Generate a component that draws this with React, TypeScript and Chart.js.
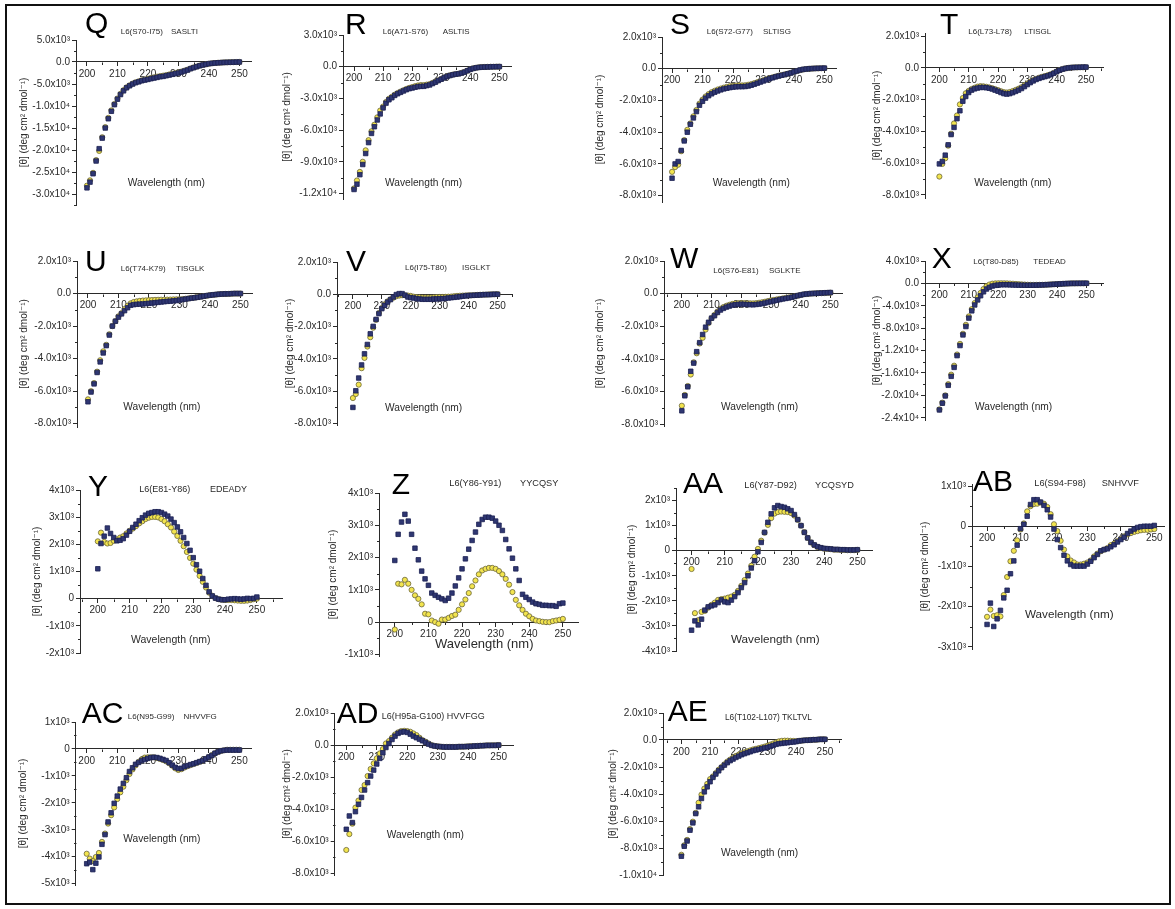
import React, { useEffect, useRef } from 'react';
import { Chart, registerables } from 'chart.js';

Chart.register(...registerables);

const FONT = "'Liberation Sans', Arial, Helvetica, 'DejaVu Sans', sans-serif";
Chart.defaults.font.family = FONT;

// ---------------- DATA ----------------
const WAVELENGTHS = [200, 201, 202, 203, 204, 205, 206, 207, 208, 209, 210, 211, 212, 213, 214, 215, 216, 217, 218, 219, 220, 221, 222, 223, 224, 225, 226, 227, 228, 229, 230, 231, 232, 233, 234, 235, 236, 237, 238, 239, 240, 241, 242, 243, 244, 245, 246, 247, 248, 249, 250];
const X_TICKS = [200, 210, 220, 230, 240, 250];

const Q_BLUE = [-28600, -27300, -25400, -22500, -19700, -17300, -15000, -12900, -11200, -9700, -8450, -7400, -6550, -5860, -5400, -5000, -4700, -4500, -4260, -4100, -3960, -3800, -3650, -3500, -3350, -3270, -3120, -2970, -2800, -2660, -2500, -2280, -2050, -1830, -1520, -1290, -1070, -840, -680, -530, -380, -300, -230, -180, -140, -100, -80, -60, -40, -20, 0];
const Q_YELLOW = [-28100, -26900, -25200, -22300, -20200, -17100, -14800, -12700, -11000, -9550, -8300, -7250, -6400, -5750, -5300, -4900, -4600, -4380, -4150, -3980, -3800, -3620, -3480, -3330, -3200, -3100, -2970, -2830, -2680, -2540, -2380, -2180, -1960, -1740, -1470, -1240, -1030, -820, -660, -520, -370, -290, -220, -170, -130, -90, -70, -50, -30, -10, 10];
const Q_YTICKS = [5000, 0, -5000, -10000, -15000, -20000, -25000, -30000];

const R_BLUE = [-11600, -11100, -10200, -9240, -8200, -7170, -6300, -5670, -5030, -4460, -3890, -3440, -3120, -2930, -2710, -2550, -2420, -2290, -2170, -2070, -2010, -1940, -1880, -1850, -1850, -1780, -1720, -1590, -1460, -1310, -1180, -1050, -920, -830, -760, -700, -670, -600, -510, -380, -250, -160, -100, -60, -40, -30, -20, -10, 0, 0, 10];
const R_YELLOW = [-11500, -10750, -9940, -8980, -7900, -6940, -6100, -5480, -4780, -4140, -3760, -3330, -3030, -2840, -2640, -2480, -2350, -2220, -2100, -2000, -1920, -1840, -1770, -1730, -1740, -1690, -1640, -1530, -1410, -1280, -1150, -1030, -900, -810, -740, -690, -650, -580, -490, -370, -240, -150, -90, -50, -30, -20, -10, 0, 0, 10, 10];
const R_YTICKS = [3000, 0, -3000, -6000, -9000, -12000];

const S_BLUE = [-6900, -6000, -5850, -5150, -4550, -4000, -3500, -3100, -2700, -2300, -2050, -1850, -1700, -1580, -1480, -1400, -1330, -1270, -1230, -1190, -1160, -1140, -1130, -1130, -1120, -1090, -1040, -980, -910, -840, -770, -700, -630, -570, -510, -460, -410, -370, -320, -270, -200, -140, -80, -40, -20, 0, 10, 20, 30, 30, 40];
const S_YELLOW = [-6500, -6200, -6050, -5200, -4500, -3850, -3450, -3000, -2600, -2200, -1950, -1750, -1600, -1480, -1390, -1310, -1250, -1190, -1140, -1100, -1080, -1060, -1050, -1050, -1040, -1010, -970, -910, -850, -790, -720, -660, -600, -540, -490, -440, -400, -360, -310, -260, -200, -140, -90, -50, -20, 0, 10, 20, 20, 30, 30];
const S_YTICKS = [2000, 0, -2000, -4000, -6000, -8000];

const T_BLUE = [-6050, -5900, -5500, -4850, -4200, -3750, -3200, -2700, -2100, -1800, -1550, -1400, -1320, -1270, -1230, -1230, -1250, -1280, -1330, -1400, -1470, -1550, -1620, -1650, -1620, -1560, -1480, -1400, -1300, -1180, -1050, -930, -820, -730, -660, -600, -550, -500, -430, -340, -240, -150, -80, -30, 0, 20, 30, 40, 40, 50, 50];
const T_YELLOW = [-6850, -6050, -5700, -4900, -4150, -3500, -3000, -2300, -1900, -1600, -1450, -1330, -1250, -1180, -1150, -1160, -1190, -1230, -1280, -1340, -1400, -1470, -1530, -1550, -1520, -1460, -1390, -1310, -1220, -1100, -980, -870, -770, -690, -620, -560, -510, -460, -400, -320, -230, -140, -70, -30, 0, 20, 30, 30, 40, 40, 40];
const T_YTICKS = [2000, 0, -2000, -4000, -6000, -8000];

const U_BLUE = [-6650, -6050, -5550, -4850, -4200, -3650, -3200, -2550, -2000, -1700, -1450, -1250, -1050, -870, -720, -680, -660, -650, -640, -620, -600, -580, -560, -540, -520, -500, -480, -470, -450, -430, -400, -370, -340, -310, -280, -260, -230, -200, -160, -130, -100, -80, -60, -40, -30, -20, -20, -10, 0, 0, 0];
const U_YELLOW = [-6500, -6000, -5500, -4800, -4100, -3550, -3150, -2500, -2000, -1700, -1400, -1200, -950, -750, -600, -520, -480, -450, -430, -420, -410, -400, -390, -385, -380, -380, -375, -370, -360, -355, -350, -340, -320, -300, -270, -250, -220, -190, -160, -130, -100, -80, -60, -40, -30, -20, -20, -10, 0, 0, 0];
const U_YTICKS = [2000, 0, -2000, -4000, -6000, -8000];

const V_BLUE = [-7010, -5980, -5190, -4380, -3690, -3110, -2450, -1990, -1560, -1200, -890, -680, -480, -330, -170, -20, 40, 40, -60, -170, -210, -230, -270, -290, -310, -310, -310, -310, -290, -290, -270, -270, -250, -230, -210, -190, -170, -150, -120, -100, -80, -70, -60, -50, -40, -30, -20, -20, -10, 0, 0];
const V_YELLOW = [-6430, -6180, -5600, -4580, -3940, -3240, -2660, -2070, -1580, -1160, -850, -620, -440, -310, -210, -120, -80, -60, -60, -80, -100, -150, -180, -190, -200, -200, -200, -200, -190, -180, -170, -170, -160, -150, -140, -120, -100, -90, -80, -70, -60, -60, -50, -40, -30, -20, -20, -10, 0, 0, 10];
const V_YTICKS = [2000, 0, -2000, -4000, -6000, -8000];

const W_BLUE = [-7170, -6250, -5700, -4750, -4250, -3550, -3000, -2500, -2050, -1750, -1500, -1350, -1150, -1000, -900, -820, -760, -700, -680, -650, -640, -650, -660, -670, -680, -660, -640, -610, -570, -520, -480, -440, -400, -360, -320, -290, -260, -220, -170, -120, -80, -40, -20, 0, 10, 20, 30, 40, 50, 60, 70];
const W_YELLOW = [-6860, -6200, -5650, -4950, -4200, -3650, -3050, -2700, -2200, -1800, -1500, -1300, -1100, -930, -820, -740, -680, -630, -600, -580, -570, -575, -585, -590, -595, -580, -555, -525, -490, -450, -410, -380, -350, -320, -290, -260, -230, -200, -160, -120, -80, -40, -20, 0, 10, 20, 30, 30, 40, 50, 60];
const W_YTICKS = [2000, 0, -2000, -4000, -6000, -8000];

const X_BLUE = [-22600, -21400, -20100, -18200, -16600, -15000, -12900, -11100, -9200, -7700, -6200, -4900, -3850, -2950, -2200, -1500, -1000, -700, -470, -350, -300, -240, -240, -240, -260, -280, -300, -310, -320, -330, -330, -330, -320, -310, -290, -270, -250, -220, -190, -160, -130, -100, -70, -40, -20, 0, 0, 10, 10, 20, 20];
const X_YELLOW = [-22500, -21300, -20000, -18000, -16300, -14700, -12700, -10800, -9000, -7400, -5900, -4600, -3500, -2500, -1700, -1000, -500, -200, -50, 0, 20, 30, 20, 0, -30, -60, -100, -140, -180, -210, -240, -260, -270, -270, -260, -250, -230, -210, -180, -150, -120, -90, -60, -40, -20, 0, 0, 10, 10, 10, 20];
const X_YTICKS = [4000, 0, -4000, -8000, -12000, -16000, -20000, -24000];

const Y_BLUE = [1100, 2030, 2300, 2600, 2400, 2250, 2130, 2150, 2210, 2340, 2480, 2620, 2740, 2870, 2980, 3075, 3140, 3170, 3200, 3200, 3170, 3110, 3040, 2930, 2800, 2640, 2460, 2250, 2030, 1780, 1510, 1250, 1010, 740, 490, 250, 100, 20, -20, -40, -40, -20, -10, 0, -10, -20, -10, 10, 0, 10, 60];
const Y_YELLOW = [2110, 2430, 2090, 2030, 2050, 2130, 2180, 2250, 2300, 2400, 2500, 2580, 2670, 2770, 2850, 2930, 2980, 3010, 3010, 2990, 2930, 2850, 2740, 2620, 2470, 2310, 2130, 1930, 1720, 1500, 1290, 1070, 840, 620, 410, 220, 100, 20, -20, -40, -50, -50, -50, -60, -70, -80, -80, -70, -50, -20, 0];
const Y_YTICKS = [4000, 3000, 2000, 1000, 0, -1000, -2000];

const Z_BLUE = [1910, 2720, 3100, 3340, 3130, 2720, 2290, 1930, 1580, 1340, 1140, 900, 830, 770, 720, 670, 740, 900, 1120, 1370, 1650, 1960, 2260, 2530, 2790, 3030, 3180, 3250, 3250, 3220, 3130, 3000, 2840, 2560, 2270, 1980, 1650, 1290, 860, 770, 700, 620, 570, 550, 520, 520, 510, 510, 490, 570, 590];
const Z_YELLOW = [-230, 1190, 1170, 1310, 1190, 1000, 830, 720, 550, 260, 240, 50, 0, -50, 80, 80, 130, 190, 230, 380, 550, 700, 900, 1110, 1290, 1480, 1600, 1650, 1680, 1680, 1650, 1580, 1480, 1340, 1160, 930, 690, 520, 380, 260, 180, 100, 50, 30, 10, 0, 0, 30, 50, 70, 100];
const Z_YTICKS = [4000, 3000, 2000, 1000, 0, -1000];

const AA_BLUE = [-3170, -2800, -2960, -2730, -2370, -2240, -2200, -2160, -2070, -1960, -2040, -2070, -1970, -1830, -1670, -1470, -1270, -1000, -690, -400, -40, 330, 730, 1130, 1470, 1710, 1800, 1760, 1730, 1670, 1600, 1440, 1240, 1000, 730, 510, 330, 230, 160, 120, 90, 80, 70, 50, 50, 40, 40, 30, 30, 30, 40];
const AA_YELLOW = [-730, -2490, -2770, -2440, -2400, -2270, -2160, -2070, -1960, -1930, -1910, -1870, -1830, -1760, -1600, -1400, -1170, -910, -600, -240, 70, 400, 720, 1030, 1300, 1480, 1540, 1560, 1550, 1540, 1500, 1400, 1230, 1000, 740, 510, 330, 220, 150, 110, 80, 70, 60, 40, 40, 30, 30, 20, 20, 20, 30];
const AA_YTICKS = [2000, 1000, 0, -1000, -2000, -3000, -4000];

const AB_BLUE = [-2440, -1910, -2490, -2300, -2090, -1780, -1590, -1180, -860, -470, -60, 50, 250, 540, 660, 660, 600, 520, 410, 230, -70, -330, -530, -720, -860, -950, -990, -990, -990, -990, -940, -870, -780, -700, -610, -580, -560, -510, -460, -390, -330, -270, -180, -120, -70, -30, -10, 0, 0, 0, 20];
const AB_YELLOW = [-2250, -2070, -2230, -2210, -2240, -1710, -1260, -870, -610, -350, -80, 70, 370, 500, 550, 560, 590, 560, 480, 300, 50, -120, -360, -580, -750, -850, -900, -950, -950, -930, -900, -850, -750, -680, -620, -580, -540, -470, -430, -370, -310, -250, -200, -170, -140, -120, -100, -90, -90, -80, -70];
const AB_YTICKS = [1000, 0, -1000, -2000, -3000];

const AC_BLUE = [-4260, -4200, -4480, -4240, -4010, -3540, -3180, -2710, -2370, -2020, -1750, -1490, -1280, -1070, -840, -700, -570, -500, -430, -390, -350, -320, -310, -320, -350, -390, -430, -510, -600, -680, -730, -720, -660, -620, -580, -550, -510, -470, -430, -370, -300, -240, -160, -110, -70, -50, -40, -40, -40, -40, -40];
const AC_YELLOW = [-3890, -4070, -4160, -4010, -3860, -3450, -3140, -2770, -2460, -2170, -1860, -1610, -1400, -1160, -930, -760, -610, -480, -390, -320, -310, -310, -310, -340, -370, -410, -460, -530, -620, -720, -780, -750, -690, -640, -600, -560, -520, -480, -430, -370, -300, -230, -160, -110, -70, -50, -30, -30, -30, -30, -30];
const AC_YTICKS = [1000, 0, -1000, -2000, -3000, -4000, -5000];

const AD_BLUE = [-5250, -4420, -4830, -4150, -3690, -3260, -2800, -2340, -1930, -1560, -1180, -830, -480, -150, 100, 350, 560, 730, 810, 830, 790, 680, 560, 460, 370, 270, 170, 60, -20, -60, -80, -100, -120, -120, -120, -120, -120, -100, -100, -100, -80, -80, -60, -60, -40, -40, -20, -20, -20, -20, 0];
const AD_YELLOW = [-6540, -5550, -4900, -3900, -3460, -2800, -2490, -1930, -1490, -1140, -830, -520, -250, 100, 250, 460, 660, 790, 870, 890, 870, 830, 730, 620, 460, 310, 210, 100, 0, -50, -80, -100, -110, -110, -110, -110, -110, -100, -100, -90, -80, -70, -60, -50, -40, -30, -20, -20, -10, -10, 0];
const AD_YTICKS = [2000, 0, -2000, -4000, -6000, -8000];

const AE_BLUE = [-8610, -7870, -7480, -6680, -6140, -5450, -4950, -4330, -3840, -3470, -3090, -2770, -2520, -2280, -2050, -1860, -1680, -1530, -1410, -1290, -1190, -1090, -1010, -940, -870, -790, -740, -690, -640, -590, -540, -470, -400, -320, -270, -250, -220, -200, -170, -150, -120, -70, -50, -20, -20, 0, 20, 20, 50, 50, 50];
const AE_YELLOW = [-8500, -7800, -7400, -6600, -6050, -5400, -4650, -4050, -3600, -3250, -2900, -2700, -2450, -2200, -2000, -1800, -1600, -1450, -1300, -1180, -1080, -990, -910, -840, -770, -700, -650, -600, -550, -490, -420, -340, -260, -180, -100, -60, -50, -50, -60, -70, -80, -60, -40, -20, -10, 0, 20, 20, 40, 50, 50];
const AE_YTICKS = [2000, 0, -2000, -4000, -6000, -8000, -10000];

// ---------------- LAYOUT / STYLE ----------------
const Y_TITLE = '[\u03B8] (deg cm\u00B2 dmol\u207B\u00B9)';
const AXIS = '#2a2a2a';
const TEXT = '#2a2a2a';
const BLUE_FILL = '#2f3772';
const BLUE_EDGE = '#1b2050';
const YEL_FILL = '#f2e44e';
const YEL_EDGE = '#6b6638';

type P = {
  id: string; l1: string; l2?: string; blue: number[]; yellow: number[]; yTicks: number[]; dec: number;
  yMin: number; yMax: number; xMin: number; xMax: number;
  axL: number; axR: number; zero: number; ppk: number; titleOff: number;
  lx: number; lTop: number; l1x: number; l2x?: number; ly: number; wlx: number; wly: number; wlSize?: number; lblSize?: number;
};

const PANELS: P[] = [
  { id: 'Q', l1: 'L6(S70-I75)', l2: 'SASLTI', blue: Q_BLUE, yellow: Q_YELLOW, yTicks: Q_YTICKS, dec: 1, yMin: -32500, yMax: 5000, xMin: 196.4, xMax: 253.8, axL: 76.3, axR: 251.7, zero: 62, ppk: 4.4, titleOff: 52, lx: 85, lTop: 11.7, l1x: 120.7, l2x: 171, ly: 32, wlx: 127.7, wly: 182.7 },
  { id: 'R', l1: 'L6(A71-S76)', l2: 'ASLTIS', blue: R_BLUE, yellow: R_YELLOW, yTicks: R_YTICKS, dec: 1, yMin: -12500, yMax: 3000, xMin: 196.2, xMax: 254.0, axL: 343.3, axR: 511.7, zero: 66.7, ppk: 10.55, titleOff: 56, lx: 345, lTop: 13.3, l1x: 382.7, l2x: 442.7, ly: 32, wlx: 385, wly: 182.7 },
  { id: 'S', l1: 'L6(S72-G77)', l2: 'SLTISG', blue: S_BLUE, yellow: S_YELLOW, yTicks: S_YTICKS, dec: 1, yMin: -8400, yMax: 2000, xMin: 196.7, xMax: 253.8, axL: 662.3, axR: 836.7, zero: 68.3, ppk: 15.9, titleOff: 62, lx: 670, lTop: 13.3, l1x: 706.7, l2x: 763, ly: 32, wlx: 712.7, wly: 182.7 },
  { id: 'T', l1: 'L6(L73-L78)', l2: 'LTISGL', blue: T_BLUE, yellow: T_YELLOW, yTicks: T_YTICKS, dec: 1, yMin: -8200, yMax: 2200, xMin: 195.1, xMax: 255.8, axL: 925, axR: 1103, zero: 67.7, ppk: 15.9, titleOff: 48, lx: 940, lTop: 13.3, l1x: 968.3, l2x: 1024.3, ly: 32, wlx: 974.3, wly: 182.7 },
  { id: 'U', l1: 'L6(T74-K79)', l2: 'TISGLK', blue: U_BLUE, yellow: U_YELLOW, yTicks: U_YTICKS, dec: 1, yMin: -8200, yMax: 2000, xMin: 196.4, xMax: 253.8, axL: 76.7, axR: 251.7, zero: 293.7, ppk: 16.3, titleOff: 53, lx: 85, lTop: 250, l1x: 120.7, l2x: 176, ly: 269, wlx: 123.3, wly: 407.3 },
  { id: 'V', l1: 'L6(I75-T80)', l2: 'ISGLKT', blue: V_BLUE, yellow: V_YELLOW, yTicks: V_YTICKS, dec: 1, yMin: -8100, yMax: 2000, xMin: 194.5, xMax: 255, axL: 337, axR: 512, zero: 294, ppk: 16.1, titleOff: 47, lx: 346, lTop: 250, l1x: 405, l2x: 462, ly: 268, wlx: 385, wly: 408.3 },
  { id: 'W', l1: 'L6(S76-E81)', l2: 'SGLKTE', blue: W_BLUE, yellow: W_YELLOW, yTicks: W_YTICKS, dec: 1, yMin: -8100, yMax: 2000, xMin: 194.0, xMax: 253.9, axL: 664, axR: 841.7, zero: 293.7, ppk: 16.3, titleOff: 64, lx: 670, lTop: 247, l1x: 713.3, l2x: 769, ly: 270.7, wlx: 721, wly: 407.3 },
  { id: 'X', l1: 'L6(T80-D85)', l2: 'TEDEAD', blue: X_BLUE, yellow: X_YELLOW, yTicks: X_YTICKS, dec: 1, yMin: -24400, yMax: 4000, xMin: 195.1, xMax: 255.6, axL: 925, axR: 1103, zero: 283.3, ppk: 5.6, titleOff: 48, lx: 931.7, lTop: 247, l1x: 973.3, l2x: 1033.3, ly: 262.3, wlx: 975, wly: 407.3 },
  { id: 'Y', l1: 'L6(E81-Y86)', l2: 'EDEADY', blue: Y_BLUE, yellow: Y_YELLOW, yTicks: Y_YTICKS, dec: 0, yMin: -2000, yMax: 4000, xMin: 194.4, xMax: 257.9, axL: 80, axR: 281.7, zero: 598.3, ppk: 27.1, titleOff: 43, lx: 88, lTop: 475, l1x: 139.3, l2x: 210, ly: 489, wlx: 131, wly: 639.3, wlSize: 10.5, lblSize: 9 },
  { id: 'Z', l1: 'L6(Y86-Y91)', l2: 'YYCQSY', blue: Z_BLUE, yellow: Z_YELLOW, yTicks: Z_YTICKS, dec: 0, yMin: -1050, yMax: 4000, xMin: 195.3, xMax: 254.5, axL: 379.3, axR: 578.3, zero: 621.7, ppk: 32.3, titleOff: 46, lx: 391.7, lTop: 473, l1x: 449.3, l2x: 520, ly: 484, wlx: 435, wly: 643.3, wlSize: 13, lblSize: 9.2 },
  { id: 'AA', l1: 'L6(Y87-D92)', l2: 'YCQSYD', blue: AA_BLUE, yellow: AA_YELLOW, yTicks: AA_YTICKS, dec: 0, yMin: -4000, yMax: 2500, xMin: 195.3, xMax: 254.4, axL: 676, axR: 872.3, zero: 550, ppk: 25, titleOff: 44, lx: 683, lTop: 471.7, l1x: 744.3, l2x: 815, ly: 486, wlx: 731, wly: 639.3, wlSize: 11.7, lblSize: 9.2 },
  { id: 'AB', l1: 'L6(S94-F98)', l2: 'SNHVVF', blue: AB_BLUE, yellow: AB_YELLOW, yTicks: AB_YTICKS, dec: 0, yMin: -3050, yMax: 1050, xMin: 195.5, xMax: 252.9, axL: 971.7, axR: 1164, zero: 526, ppk: 40.2, titleOff: 47, lx: 973, lTop: 470, l1x: 1034.3, l2x: 1101.7, ly: 484, wlx: 1025, wly: 614, wlSize: 11.7, lblSize: 9.2 },
  { id: 'AC', l1: 'L6(N95-G99)', l2: 'NHVVFG', blue: AC_BLUE, yellow: AC_YELLOW, yTicks: AC_YTICKS, dec: 0, yMin: -5050, yMax: 1000, xMin: 196.4, xMax: 253.8, axL: 76, axR: 251.7, zero: 749, ppk: 26.9, titleOff: 52.7, lx: 81.7, lTop: 701.7, l1x: 127.7, l2x: 183.5, ly: 716.7, wlx: 123.3, wly: 839.3 },
  { id: 'AD', l1: 'L6(H95a-G100) HVVFGG', blue: AD_BLUE, yellow: AD_YELLOW, yTicks: AD_YTICKS, dec: 1, yMin: -8100, yMax: 2000, xMin: 196.2, xMax: 254.7, axL: 335, axR: 513.3, zero: 745, ppk: 16.04, titleOff: 47.7, lx: 336.7, lTop: 701.7, l1x: 381.7, ly: 716.7, wlx: 386.7, wly: 835, lblSize: 9 },
  { id: 'AE', l1: 'L6(T102-L107) TKLTVL', blue: AE_BLUE, yellow: AE_YELLOW, yTicks: AE_YTICKS, dec: 1, yMin: -10000, yMax: 2000, xMin: 193.6, xMax: 255.6, axL: 663.3, axR: 841.7, zero: 740, ppk: 13.5, titleOff: 50, lx: 667.7, lTop: 700, l1x: 725, ly: 716.7, wlx: 721, wly: 852.7, lblSize: 8.3 },
];

const SUP: Record<string, string> = { '0': '\u2070', '1': '\u00B9', '2': '\u00B2', '3': '\u00B3', '4': '\u2074', '5': '\u2075', '6': '\u2076', '7': '\u2077', '8': '\u2078', '9': '\u2079', '-': '\u207B' };

function sci(v: number, dec: number): string {
  if (Math.abs(v) < 1e-9) return dec ? '0.0' : '0';
  const e = Math.floor(Math.log10(Math.abs(v)) + 1e-9);
  const m = v / Math.pow(10, e);
  return m.toFixed(dec) + 'x10' + String(e).split('').map((c) => SUP[c] || c).join('');
}

const PAD_T = 8;
const PAD_B = 8;
const PAD_R = 6;

function makeMinorPlugin(yMinor: number[], xMinor: number[]) {
  return {
    id: 'minorTicks',
    beforeDatasetsDraw(chart: any) {
      const { ctx } = chart;
      const xs = chart.scales.x;
      const ys = chart.scales.y;
      const axX = Math.round(chart.chartArea.left) + 0.5;
      const y0 = Math.round(ys.getPixelForValue(0)) + 0.5;
      ctx.save();
      ctx.strokeStyle = AXIS;
      ctx.lineWidth = 1;
      ctx.beginPath();
      for (const v of yMinor) {
        const py = Math.round(ys.getPixelForValue(v)) + 0.5;
        ctx.moveTo(axX - 2.5, py);
        ctx.lineTo(axX, py);
      }
      for (const v of xMinor) {
        const px = Math.round(xs.getPixelForValue(v)) + 0.5;
        ctx.moveTo(px, y0);
        ctx.lineTo(px, y0 + 2.5);
      }
      ctx.stroke();
      ctx.restore();
    },
  };
}

function Panel({ p }: { p: P }) {
  const ref = useRef<HTMLCanvasElement>(null);
  const yTopPx = p.zero - (p.yMax / 1000) * p.ppk;
  const yBotPx = p.zero - (p.yMin / 1000) * p.ppk;
  const yW = p.titleOff + 6;
  const left = p.axL - yW;
  const top = yTopPx - PAD_T;
  const w = Math.round(p.axR + PAD_R - left);
  const h = Math.round(yBotPx + PAD_B - top);

  useEffect(() => {
    const canvas = ref.current;
    if (!canvas) return;
    const t = p.yTicks;
    const step = Math.abs(t[0] - t[1]);
    const yMinor: number[] = [];
    for (let i = 0; i < t.length - 1; i++) yMinor.push((t[i] + t[i + 1]) / 2);
    if (t[0] + step / 2 <= p.yMax) yMinor.push(t[0] + step / 2);
    if (t[t.length - 1] - step / 2 >= p.yMin) yMinor.push(t[t.length - 1] - step / 2);
    const xMinor = [195, 205, 215, 225, 235, 245, 255].filter((v) => v >= p.xMin && v <= p.xMax);

    const chart = new Chart(canvas, {
      type: 'scatter',
      data: {
        datasets: [
          {
            data: WAVELENGTHS.map((x, i) => ({ x, y: p.blue[i] })),
            pointStyle: 'rect',
            pointRadius: 3.2,
            backgroundColor: BLUE_FILL,
            borderColor: BLUE_EDGE,
            borderWidth: 0.8,
            clip: false,
          } as any,
          {
            data: WAVELENGTHS.map((x, i) => ({ x, y: p.yellow[i] })),
            pointStyle: 'circle',
            pointRadius: 2.6,
            backgroundColor: YEL_FILL,
            borderColor: YEL_EDGE,
            borderWidth: 0.8,
            clip: false,
          } as any,
        ],
      },
      options: {
        responsive: false,
        animation: false,
        devicePixelRatio: 1,
        events: [],
        layout: { padding: { left: 0, top: PAD_T, right: PAD_R, bottom: PAD_B } },
        plugins: { legend: { display: false }, tooltip: { enabled: false } },
        scales: {
          x: {
            type: 'linear',
            min: p.xMin,
            max: p.xMax,
            position: { y: 0 } as any,
            afterBuildTicks: (s: any) => { s.ticks = X_TICKS.map((v) => ({ value: v })); },
            afterFit: (s: any) => { s.paddingLeft = 0; s.paddingRight = 0; },
            ticks: { autoSkip: false, maxRotation: 0, padding: 2, color: TEXT, font: { size: 10 }, callback: (v: any) => String(v) },
            grid: { drawOnChartArea: false, drawTicks: true, tickLength: 4, tickColor: AXIS },
            border: { display: true, color: AXIS, width: 1 },
          },
          y: {
            type: 'linear',
            position: 'left',
            min: p.yMin,
            max: p.yMax,
            afterBuildTicks: (s: any) => { s.ticks = p.yTicks.map((v) => ({ value: v })); },
            afterFit: (s: any) => { s.width = yW; s.paddingTop = 0; s.paddingBottom = 0; },
            ticks: { autoSkip: false, padding: 2, color: TEXT, font: { size: 10 }, callback: (v: any) => sci(Number(v), p.dec) },
            grid: { drawOnChartArea: false, drawTicks: true, tickLength: 4, tickColor: AXIS },
            border: { display: true, color: AXIS, width: 1 },
            title: { display: true, text: Y_TITLE, color: TEXT, font: { size: 10 }, padding: 0 },
          },
        },
      } as any,
      plugins: [makeMinorPlugin(yMinor, xMinor)],
    });
    return () => chart.destroy();
  }, []);

  const letterSize = 30;
  const lblSize = p.lblSize || 8;
  const wlSize = p.wlSize || 10.2;
  const txt = (x: number, cy: number, size: number, s: string, color = TEXT) => (
    <div style={{ position: 'absolute', left: x, top: cy - size * 0.5, fontSize: size, lineHeight: 1, whiteSpace: 'nowrap', color, fontFamily: FONT }}>{s}</div>
  );

  return (
    <>
      <canvas ref={ref} width={w} height={h} style={{ position: 'absolute', left, top, width: w, height: h }} />
      <div style={{ position: 'absolute', left: p.lx, top: p.lTop - letterSize * 0.13, fontSize: letterSize, lineHeight: 1, color: '#000', fontFamily: FONT, whiteSpace: 'nowrap' }}>{p.id}</div>
      {txt(p.l1x, p.ly, lblSize, p.l1)}
      {p.l2 && p.l2x !== undefined ? txt(p.l2x, p.ly, lblSize, p.l2) : null}
      {txt(p.wlx, p.wly, wlSize, 'Wavelength (nm)')}
    </>
  );
}

export default function App() {
  return (
    <div style={{ position: 'fixed', left: 0, top: 0, width: 1175, height: 909, background: '#ffffff', overflow: 'hidden', fontFamily: FONT }}>
      <div style={{ position: 'absolute', left: 5, top: 4, width: 1166, height: 901, border: '2px solid #111', boxSizing: 'border-box' }} />
      {PANELS.map((p) => <Panel key={p.id} p={p} />)}
    </div>
  );
}
